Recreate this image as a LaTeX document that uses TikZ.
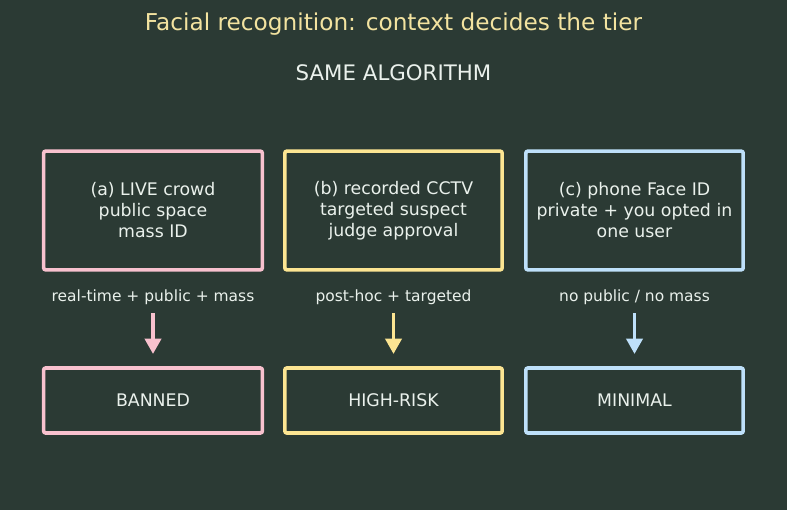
\documentclass[tikz,border=0pt]{standalone}
\usepackage{fontspec}
\setmainfont{DejaVu Sans}
\usetikzlibrary{arrows.meta}
\definecolor{bg}{HTML}{2B3A34}
\definecolor{cpink}{HTML}{F8C1CE}
\definecolor{cyel}{HTML}{FCE592}
\definecolor{cblue}{HTML}{BEE0FA}
\definecolor{ctitle}{HTML}{F3E3A0}
\definecolor{ctext}{HTML}{EAF1EC}
\tikzset{
  boxstyle/.style={draw, line width=2.7pt, rounded corners=1.5pt, inner sep=0pt},
  boxtext/.style={text=ctext, font=\fontsize{13}{15.75}\selectfont, align=center},
  lbl/.style={text=ctext, font=\fontsize{11.6}{14}\selectfont},
  arr/.style={line width=2.8pt, -{Triangle[length=11.5pt,width=12pt]}},
}
\begin{document}
\begin{tikzpicture}[x=0.75pt,y=-0.75pt]
\fill[bg] (0,0) rectangle (787,510);
\useasboundingbox (0,0) rectangle (787,510);
\node[text=ctitle, font=\fontsize{17.4}{20}\selectfont] (title) at (393.5,24) {Facial recognition: context decides the tier};
\node[text=ctext, font=\fontsize{16}{19}\selectfont] (same) at (393.5,73) {SAME ALGORITHM};
% top boxes
\node[boxstyle, draw=cpink, minimum width=164pt, minimum height=89pt] (a) at (153,210.5) {};
\node[boxstyle, draw=cyel, minimum width=163pt, minimum height=89pt] (b) at (393.5,210.5) {};
\node[boxstyle, draw=cblue, minimum width=163pt, minimum height=89pt] (c) at (634.5,210.5) {};
\node[boxtext] (at) at (153,210.5) {(a) LIVE crowd\\public space\\mass ID};
\node[boxtext] (bt) at (393.5,210.5) {(b) recorded CCTV\\targeted suspect\\judge approval};
\node[boxtext] (ct) at (634.5,210.5) {(c) phone Face ID\\private + you opted in\\one user};
% labels
\node[lbl] (la) at (153,297) {real-time + public + mass};
\node[lbl] (lb) at (393.5,297) {post-hoc + targeted};
\node[lbl] (lc) at (634.5,297) {no public / no mass};
% bottom boxes
\node[boxstyle, draw=cpink, minimum width=164pt, minimum height=48.75pt] (ba) at (153,400.5) {};
\node[boxstyle, draw=cyel, minimum width=163pt, minimum height=48.75pt] (bb) at (393.5,400.5) {};
\node[boxstyle, draw=cblue, minimum width=163pt, minimum height=48.75pt] (bc) at (634.5,400.5) {};
\node[boxtext] (bat) at (153,400.5) {BANNED};
\node[boxtext] (bbt) at (393.5,400.5) {HIGH-RISK};
\node[boxtext] (bct) at (634.5,400.5) {MINIMAL};
% arrows
\coordinate (sa) at (153,313); \coordinate (ea) at (153,354);
\coordinate (sb) at (393.5,313); \coordinate (eb) at (393.5,354);
\coordinate (sc) at (634.5,313); \coordinate (ec) at (634.5,354);
\draw[arr, cpink] (sa) -- (ea);
\draw[arr, cyel] (sb) -- (eb);
\draw[arr, cblue] (sc) -- (ec);
\end{tikzpicture}
\end{document}
